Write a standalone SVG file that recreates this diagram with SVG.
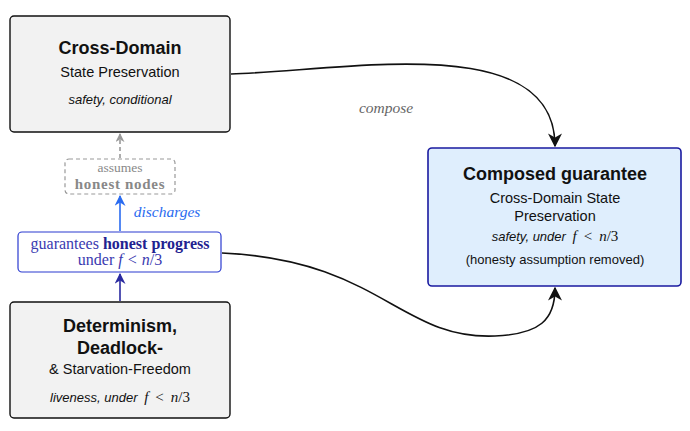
<svg xmlns="http://www.w3.org/2000/svg" width="690" height="431" viewBox="0 0 690 431">
<defs>
<style>
.box{fill:#f2f2f2;stroke:#111;stroke-width:1.4}
.sans{font-family:"Liberation Sans","DejaVu Sans",sans-serif;text-anchor:middle;fill:#111}
.serif{font-family:"Liberation Serif","DejaVu Serif",serif;text-anchor:middle}
.t{font-size:18px;font-weight:bold}
.s{font-size:14.5px}
.i{font-size:13px;font-style:italic}
.m{font-family:"Liberation Serif","DejaVu Serif",serif;font-style:italic;font-size:15px}
.mr{font-family:"Liberation Serif","DejaVu Serif",serif;font-style:normal;font-size:15px}
.conn{fill:none;stroke-width:1.6}
</style>
<marker id="ak2" viewBox="0 0 10 10" refX="9" refY="5" markerWidth="14" markerHeight="14" markerUnits="userSpaceOnUse" orient="auto"><path d="M0,0 L10,5 L0,10 L3,5 Z" fill="#111"/></marker>
<marker id="ag" viewBox="0 0 10 10" refX="9" refY="5" markerWidth="9" markerHeight="9" markerUnits="userSpaceOnUse" orient="auto"><path d="M0,0 L10,5 L0,10 L3,5 Z" fill="#999"/></marker>
<marker id="ab" viewBox="0 0 10 10" refX="9" refY="5" markerWidth="11" markerHeight="11" markerUnits="userSpaceOnUse" orient="auto"><path d="M0,0 L10,5 L0,10 L3,5 Z" fill="#2a6bf0"/></marker>
<marker id="ad" viewBox="0 0 10 10" refX="9" refY="5" markerWidth="11" markerHeight="11" markerUnits="userSpaceOnUse" orient="auto"><path d="M0,0 L10,5 L0,10 L3,5 Z" fill="#2a2aa0"/></marker>
</defs>
<g id="connectors">
<path class="conn" stroke="#999" stroke-width="1.3" stroke-dasharray="4,3" d="M120,158 L120,134" marker-end="url(#ag)"/>
<path class="conn" stroke="#2a6bf0" stroke-width="2" d="M120,231 L120,196" marker-end="url(#ab)"/>
<path class="conn" stroke="#2a2aa0" stroke-width="2" d="M120,301 L120,274" marker-end="url(#ad)"/>
<path class="conn" stroke="#111" d="M231,74 C 350,70 555,30 555,146" marker-end="url(#ak2)"/>
<path class="conn" stroke="#111" d="M222,253 C 380,260 400,340 495,336 C 540,334 555,320 555,288" marker-end="url(#ak2)"/>
<text class="serif" x="386" y="113" font-size="15.5" font-style="italic" fill="#666">compose</text>
<text class="serif" x="167" y="217" font-size="15.5" font-style="italic" fill="#2a6bf0">discharges</text>
</g>
<g id="crossdomain">
<rect class="box" x="10" y="16" width="220" height="116" rx="4"/>
<text class="sans t" x="120" y="54">Cross-Domain</text>
<text class="sans s" x="120" y="77">State Preservation</text>
<text class="sans i" x="120" y="104">safety, conditional</text>
</g>
<g id="assumes">
<rect x="65" y="159" width="110" height="35" rx="4" fill="#fff" stroke="#999" stroke-width="1.2" stroke-dasharray="4,3"/>
<text class="serif" x="120" y="172" font-size="13.5" fill="#888">assumes</text>
<text class="serif" x="120" y="189" font-size="15" font-weight="bold" letter-spacing="0.7" fill="#888">honest nodes</text>
</g>
<g id="guarantees">
<rect x="18" y="232" width="203" height="40" rx="4" fill="#fff" stroke="#2a3ad0" stroke-width="1.2"/>
<text class="serif" x="120" y="249" font-size="16" fill="#3a3ab0">guarantees <tspan font-weight="bold" fill="#222290">honest progress</tspan></text>
<text class="serif" x="120" y="265" font-size="16" fill="#3a3ab0">under <tspan font-style="italic">f</tspan><tspan dx="5">&lt;</tspan><tspan dx="5" font-style="italic">n</tspan>/3</text>
</g>
<g id="determinism">
<rect class="box" x="10" y="302" width="220" height="116" rx="4"/>
<text class="sans t" x="120" y="332">Determinism,</text>
<text class="sans t" x="120" y="354">Deadlock-</text>
<text class="sans s" x="120" y="374" font-size="15">&amp; Starvation-Freedom</text>
<text class="sans i" x="120" y="402">liveness, under <tspan class="m" dx="3">f</tspan><tspan class="mr" dx="7">&lt;</tspan><tspan class="m" dx="7">n</tspan><tspan class="mr">/3</tspan></text>
</g>
<g id="composed">
<rect x="428" y="148" width="253" height="138" rx="4" fill="#dfeefd" stroke="#1a1aa0" stroke-width="1.6"/>
<text class="sans t" x="555" y="180">Composed guarantee</text>
<text class="sans s" x="555" y="203">Cross-Domain State</text>
<text class="sans s" x="555" y="221">Preservation</text>
<text class="sans i" x="555" y="241">safety, under <tspan class="m" dx="3">f</tspan><tspan class="mr" dx="7">&lt;</tspan><tspan class="m" dx="7">n</tspan><tspan class="mr">/3</tspan></text>
<text class="sans" x="555" y="264" font-size="13">(honesty assumption removed)</text>
</g>
</svg>
